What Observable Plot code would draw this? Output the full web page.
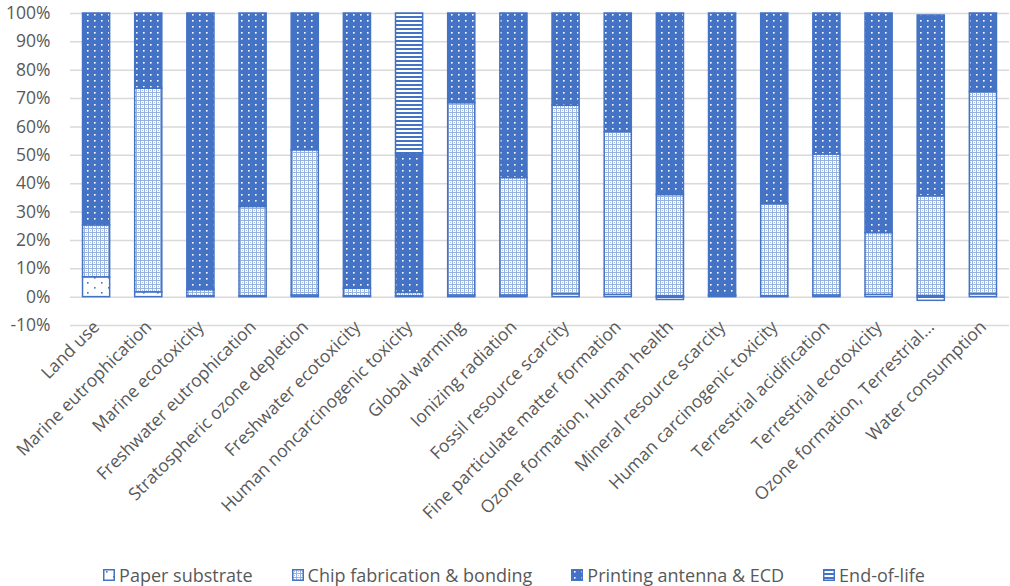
<!DOCTYPE html>
<html><head><meta charset="utf-8">
<script src="https://cdn.jsdelivr.net/npm/d3@7"></script>
<script src="https://cdn.jsdelivr.net/npm/@observablehq/plot@0.6"></script>
<style>
body{margin:0;background:#fff;font-family:"Open Sans",sans-serif;}
#legend{display:flex;justify-content:center;gap:39px;height:22px;padding-top:14px;padding-left:18px;font-size:18px;color:#595959;line-height:22px;}
.item{display:flex;align-items:center;gap:4px;white-space:nowrap}
.item svg{display:block}
</style></head><body>
<svg width="0" height="0" style="position:absolute"><defs>
<pattern id="patPaper" patternUnits="userSpaceOnUse" width="14" height="10">
  <rect width="14" height="10" fill="#fff"/>
  <rect x="3" y="2" width="1.6" height="1.6" fill="#4472C4"/>
  <rect x="10" y="7" width="1.6" height="1.6" fill="#4472C4"/>
</pattern>
<pattern id="patChip" patternUnits="userSpaceOnUse" width="4" height="4">
  <rect width="4" height="4" fill="#fff"/>
  <rect width="4" height="1" fill="#4472C4" fill-opacity="0.55"/>
  <rect y="1" width="1" height="3" fill="#4472C4" fill-opacity="0.55"/>
  <rect x="2" y="2" width="1" height="1" fill="#4472C4" fill-opacity="0.45"/>
</pattern>
<pattern id="patPrint" patternUnits="userSpaceOnUse" width="7" height="6">
  <rect width="7" height="6" fill="#4472C4"/>
  <rect x="3" y="2" width="1.6" height="1.6" fill="#fff"/>
</pattern>
<pattern id="patEol" patternUnits="userSpaceOnUse" width="4" height="4">
  <rect width="4" height="4" fill="#fff"/>
  <rect width="4" height="2" fill="#4472C4"/>
</pattern>
</defs></svg>
<div id="chart"></div><div id="legend"></div>
<script>
const categories = ["Land use","Marine eutrophication","Marine ecotoxicity","Freshwater eutrophication","Stratospheric ozone depletion","Freshwater ecotoxicity","Human noncarcinogenic toxicity","Global warming","Ionizing radiation","Fossil resource scarcity","Fine particulate matter formation","Ozone formation, Human health","Mineral resource scarcity","Human carcinogenic toxicity","Terrestrial acidification","Terrestrial ecotoxicity","Ozone formation, Terrestrial...","Water consumption"];
const seriesNames = ["Paper substrate","Chip fabrication & bonding","Printing antenna & ECD","End-of-life"];
const paperSubstrate = [7.0,1.7,0.3,0.3,0.6,0.3,0.3,0.6,0.6,1.0,0.8,0.3,0.3,0.3,0.6,0.8,0.4,1.0];
const chipFabrication = [18.3,71.8,2.2,31.5,51.2,2.7,1.2,67.8,41.4,66.5,57.4,35.7,0.3,32.5,49.7,21.8,35.2,71.3];
const printingAntenna = [74.7,26.5,97.5,68.2,48.2,97.0,49.2,31.6,58.0,32.5,41.8,64.0,99.4,67.2,49.7,77.4,63.7,27.7];
const endOfLife = [0,0,0,0,0,0,49.3,0,0,0,0,-1.0,0,0,0,0,-1.3,0];
const yTicks = [-10,0,10,20,30,40,50,60,70,80,90,100];

const seriesValues = [paperSubstrate, chipFabrication, printingAntenna, endOfLife];
const patternIds = ["url(#patPaper)","url(#patChip)","url(#patPrint)","url(#patEol)"];
const fillFor = Object.fromEntries(seriesNames.map((s,i)=>[s, patternIds[i]]));

const rows = categories.flatMap((c,i)=>seriesNames.map((s,j)=>({category:c, series:s, value:seriesValues[j][i]}))).filter(d=>d.value!==0);

const chart = Plot.plot({
  width:1010, height:550,
  marginTop:13, marginBottom:225, marginLeft:70, marginRight:1,
  style:{fontFamily:"'Open Sans', sans-serif", fontSize:"17px", color:"#595959", background:"#fff"},
  x:{domain:categories, paddingInner:0.48, paddingOuter:0.24, round:false, label:null},
  y:{domain:[-10,100], label:null},
  color:{type:"identity"},
  marks:[
    Plot.gridY(yTicks, {stroke:"#d9d9d9", strokeOpacity:1, strokeWidth:1.5}),
    Plot.barY(rows, Plot.stackY({x:"category", y:"value", z:"series", order:seriesNames, fill:d=>fillFor[d.series], stroke:"#4472C4", strokeWidth:1.5})),
    Plot.axisY(yTicks, {tickSize:0, tickPadding:20, tickFormat:d=>d+"%", label:null, fontSize:17.5}),
    Plot.axisX({tickRotate:-45, tickSize:0, tickPadding:-1.5, label:null, fontSize:17.5})
  ]
});
document.getElementById("chart").appendChild(chart);

const legend = document.getElementById("legend");
seriesNames.forEach((s,i)=>{
  const item = document.createElement("div");
  item.className = "item";
  item.innerHTML = `<svg width="12" height="12"><rect x="0.75" y="0.75" width="10.5" height="10.5" fill="${patternIds[i]}" stroke="#4472C4" stroke-width="1.5"/></svg><span>${s.replace(/&/g,"&amp;")}</span>`;
  legend.appendChild(item);
});
</script>
</body></html>
